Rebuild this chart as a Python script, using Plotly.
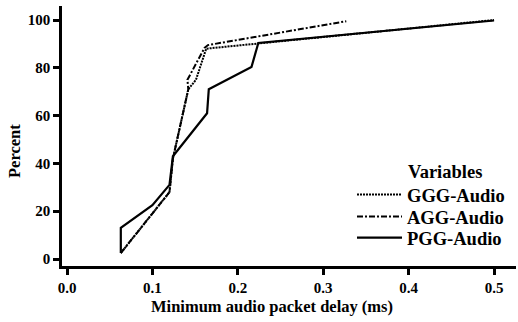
import plotly.graph_objects as go

# Data
ggg_x = [0.063, 0.120, 0.124, 0.142, 0.151, 0.163, 0.500]
ggg_y = [2.5, 28.0, 42.0, 71.0, 75.0, 88.0, 100.0]

agg_x = [0.063, 0.120, 0.124, 0.142, 0.141, 0.161, 0.165, 0.327]
agg_y = [2.5, 28.0, 42.0, 71.0, 75.0, 88.3, 89.5, 99.5]

pgg_x = [0.063, 0.063, 0.100, 0.120, 0.124, 0.164, 0.166, 0.216, 0.224, 0.500]
pgg_y = [2.5, 13.0, 22.5, 31.0, 43.0, 61.0, 71.0, 80.3, 90.4, 99.8]

x_ticks = [0.0, 0.1, 0.2, 0.3, 0.4, 0.5]
x_tick_labels = ["0.0", "0.1", "0.2", "0.3", "0.4", "0.5"]
y_ticks = [0, 20, 40, 60, 80, 100]
y_tick_labels = ["0", "20", "40", "60", "80", "100"]

FONT = "Liberation Serif"

L, R, T, B = 62, 2, 6, 56
W, H = 518, 322
pw = W - L - R
ph = H - T - B


def px_x(x):
    return (x - L) / pw


def px_y(y):
    return (H - B - y) / ph


fig = go.Figure()
fig.add_trace(go.Scatter(x=ggg_x, y=ggg_y, mode="lines", name="GGG-Audio", legend="legend",
                         line=dict(color="black", width=2, dash="2px,1px")))
fig.add_trace(go.Scatter(x=agg_x, y=agg_y, mode="lines", name="AGG-Audio", legend="legend2",
                         line=dict(color="black", width=2, dash="6px,2px,2px,2px")))
fig.add_trace(go.Scatter(x=pgg_x, y=pgg_y, mode="lines", name="PGG-Audio", legend="legend3",
                         line=dict(color="black", width=2.2)))

legend_font = dict(family=FONT, size=18.5, color="black", weight="bold")


def leg(ycenter):
    return dict(x=px_x(352), y=px_y(ycenter), xanchor="left", yanchor="middle",
                bgcolor="rgba(0,0,0,0)", font=legend_font, itemwidth=45,
                borderwidth=0)


fig.update_layout(
    width=W, height=H,
    margin=dict(l=L, r=R, t=T, b=B),
    paper_bgcolor="white", plot_bgcolor="white",
    font=dict(family=FONT, color="black", size=17),
    showlegend=True,
    legend=leg(195), legend2=leg(217), legend3=leg(238),
    annotations=[
        dict(text="Variables", x=px_x(406), y=px_y(172), xref="paper", yref="paper",
             xanchor="left", yanchor="middle", showarrow=False,
             font=dict(family=FONT, size=18.5, color="black", weight="bold")),
        dict(text="Minimum audio packet delay (ms)", x=px_x(272), y=px_y(306),
             xref="paper", yref="paper", xanchor="center", yanchor="middle", showarrow=False,
             font=dict(family=FONT, size=16.5, color="black", weight="bold")),
        dict(text="Percent", x=px_x(14), y=px_y(151), textangle=-90,
             xref="paper", yref="paper", xanchor="center", yanchor="middle", showarrow=False,
             font=dict(family=FONT, size=16.5, color="black", weight="bold")),
    ],
)

fig.update_xaxes(range=[-0.00585, 0.5257], tickvals=x_ticks, ticktext=x_tick_labels,
                 showgrid=False, zeroline=False, showline=True, linecolor="black", linewidth=2.5,
                 ticks="outside", ticklen=6, tickwidth=2.5, tickcolor="black",
                 tickfont=dict(family=FONT, size=15, color="black", weight="bold"))
fig.update_yaxes(range=[-2.93, 105.86], tickvals=y_ticks, ticktext=y_tick_labels,
                 showgrid=False, zeroline=False, showline=True, linecolor="black", linewidth=2.5,
                 ticks="outside", ticklen=6, tickwidth=2.5, tickcolor="black",
                 tickfont=dict(family=FONT, size=15, color="black", weight="bold"))

fig.write_html("out.html")
